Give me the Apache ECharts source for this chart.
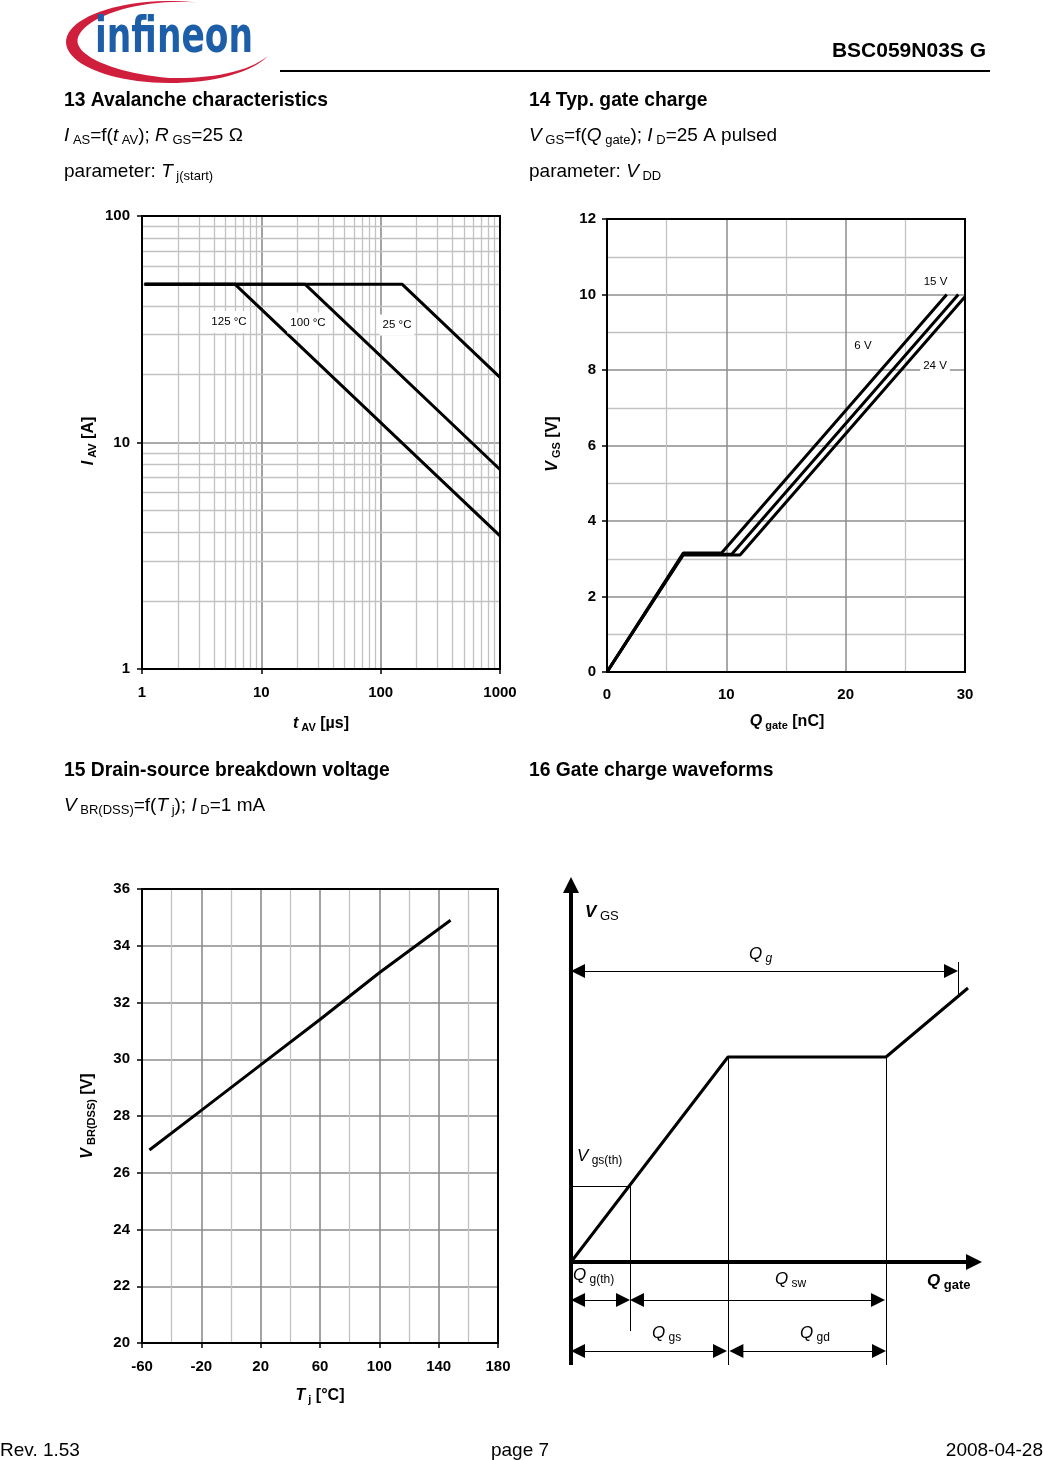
<!DOCTYPE html>
<html><head><meta charset="utf-8">
<script src="https://cdn.jsdelivr.net/npm/echarts@6/dist/echarts.min.js"></script>
<style>html,body{margin:0;padding:0;background:#fff}#c{width:1043px;height:1460px}</style>
</head><body><div id="c"></div>
<script>
// ================= DATA =================
// 13 Avalanche characteristics: I_AV = f(t_AV), log-log
const tAV_25C  = [1.05, 151, 1000];
const iAV_25C  = [50, 50, 19.4];
const tAV_100C = [1.05, 23.2, 1000];
const iAV_100C = [50, 50, 7.6];
const tAV_125C = [1.05, 6.0, 1000];
const iAV_125C = [50, 50, 3.87];
const minorT13 = [2,3,4,5,6,7,8,9,20,30,40,50,60,70,80,90,200,300,400,500,600,700,800,900];
const minorI13 = [2,3,4,5,6,7,8,9,20,30,40,50,60,70,80,90];

// 14 Typ. gate charge: V_GS = f(Q_gate), param V_DD
const qGate_6V  = [0, 6.39, 9.6, 28.47];
const vGS_6V    = [0, 3.15, 3.15, 10];
const qGate_15V = [0, 6.39, 10.45, 29.44];
const vGS_15V   = [0, 3.12, 3.12, 10];
const qGate_24V = [0, 6.39, 11.15, 30];
const vGS_24V   = [0, 3.1, 3.1, 9.94];

// 15 Drain-source breakdown voltage: V_BR(DSS) = f(Tj)
const tj   = [-55, -20, 20, 60, 100, 148];
const vBR  = [26.8, 28.2, 29.8, 31.4, 33.05, 34.9];

// 16 Gate charge waveforms (schematic, arbitrary units)
const wfQ = [0, 39.25, 78.75, 99.25];
const wfV = [0, 51.25, 51.25, 68.5];
const qTh = 14.75, vTh = 19;          // Q_g(th), V_gs(th)
const qPl1 = 39.25, qPl2 = 78.75, vPl = 51.25; // plateau start / end
const qG = 96.75, vQg = 72.75;        // Q_g marker
const yRow1 = -9.5, yRow2 = -22.25;   // arrow rows
const yAxisBottom = -25.75, yAxisTop = 96.25, xAxisEnd = 102.75;

// ================= HELPERS =================
const FF = '"Liberation Sans", Arial, Helvetica, sans-serif';
const MID = 0.28;
const zip = (a, b) => a.map((v, i) => [v, b[i]]);
const mctx = document.createElement('canvas').getContext('2d');
const graphics = [];

function run(x, y, segs, o) {
  o = o || {};
  const items = segs.map(s => {
    const it = Object.assign({ b: false, i: false, dy: 0 }, s);
    mctx.font = (it.i ? 'italic ' : '') + (it.b ? 'bold ' : '') + it.s + 'px ' + FF;
    it.w = mctx.measureText(it.t).width;
    return it;
  });
  const W = items.reduce((a, b) => a + b.w, 0);
  let cx = o.align === 'center' ? -W / 2 : o.align === 'right' ? -W : 0;
  const children = items.map(it => {
    const el = {
      type: 'text', x: cx, y: it.dy - MID * it.s, z: 20,
      style: {
        text: it.t, fill: '#000', fontSize: it.s, fontFamily: FF,
        fontWeight: it.b ? 'bold' : 'normal', fontStyle: it.i ? 'italic' : 'normal',
        align: 'left', verticalAlign: 'middle'
      }
    };
    cx += it.w;
    return el;
  });
  graphics.push({ type: 'group', x: x, y: y, rotation: o.rot ? Math.PI / 2 : 0, children: children, silent: true });
}
function tag(x, y, text, pad) {
  graphics.push({
    type: 'text', x: x, y: y, z: 15, silent: true,
    style: { text: text, fontSize: 11.5, fontFamily: FF, fill: '#000', align: 'center',
      verticalAlign: 'middle', backgroundColor: '#fff', padding: pad }
  });
}
// segment makers
const P  = t => ({ t, s: 19 });
const PI = t => ({ t, s: 19, i: true });
const PS = t => ({ t: ' ' + t, s: 13, dy: 3 });
const A  = t => ({ t, s: 16, b: true });
const AI = t => ({ t, s: 16, b: true, i: true });
const AS = t => ({ t: ' ' + t, s: 11, b: true, dy: 3 });

// ================= TEXTS =================
// header
run(986, 57, [{ t: 'BSC059N03S G', s: 21, b: true }], { align: 'right' });
graphics.push({ type: 'line', shape: { x1: 280, y1: 71, x2: 990, y2: 71 }, style: { stroke: '#000', lineWidth: 2 }, silent: true });

// logo swoosh (crescent)
(function () {
  const cx = 170, cy = 42, rx = 104, ry = 41;
  const a0 = -75, a1 = -340, N = 60;
  const outer = [], inner = [];
  for (let k = 0; k <= N; k++) {
    const t = k / N;
    const a = (a0 + (a1 - a0) * t) * Math.PI / 180;
    const taper = Math.pow(Math.sin(Math.PI * t), 0.8);
    const left = Math.max(0, -Math.cos(a));
    const th = taper * (5 + 7 * left + 3 * Math.max(0, Math.sin(a)));
    outer.push([cx + rx * Math.cos(a), cy + ry * Math.sin(a)]);
    inner.push([cx + (rx - th) * Math.cos(a), cy + (ry - th * 0.8) * Math.sin(a)]);
  }
  graphics.push({ type: 'polygon', shape: { points: outer.concat(inner.reverse()) }, style: { fill: '#cf1f3c' }, silent: true, z: 1 });
  const lf = 'bold 50px "DejaVu Sans Condensed", "DejaVu Sans", sans-serif';
  mctx.font = lf;
  const w = mctx.measureText('infineon').width;
  graphics.push({ type: 'text', x: 95, y: 57 - 0.35 * 50, scaleX: 158 / w, z: 2, silent: true,
    style: { text: 'infineon', font: lf, fontSize: 50, fontWeight: 'bold', fontFamily: '"DejaVu Sans Condensed", "DejaVu Sans", sans-serif', fill: '#1d5ea8', align: 'left', verticalAlign: 'middle' } });
})();

// section headings
const H = t => [{ t, s: 19.3, b: true }];
run(64, 106, H('13 Avalanche characteristics'));
run(529, 106, H('14 Typ. gate charge'));
run(64, 776, H('15 Drain-source breakdown voltage'));
run(529, 776, H('16 Gate charge waveforms'));

// sub lines
run(64, 141, [PI('I'), PS('AS'), P('=f('), PI('t'), PS('AV'), P('); '), PI('R'), PS('GS'), P('=25 Ω')]);
run(64, 177, [P('parameter: '), PI('T'), PS('j(start)')]);
run(529, 141, [PI('V'), PS('GS'), P('=f('), PI('Q'), PS('gate'), P('); '), PI('I'), PS('D'), P('=25 A pulsed')]);
run(529, 177, [P('parameter: '), PI('V'), PS('DD')]);
run(64, 811, [PI('V'), PS('BR(DSS)'), P('=f('), PI('T'), PS('j'), P('); '), PI('I'), PS('D'), P('=1 mA')]);

// axis titles
run(93, 441, [AI('I'), AS('AV'), A(' [A]')], { align: 'center', rot: true });
run(321, 728, [AI('t'), AS('AV'), A(' [µs]')], { align: 'center' });
run(557, 444, [AI('V'), AS('GS'), A(' [V]')], { align: 'center', rot: true });
run(787, 726, [AI('Q'), AS('gate'), A(' [nC]')], { align: 'center' });
run(92, 1116, [AI('V'), AS('BR(DSS)'), A(' [V]')], { align: 'center', rot: true });
run(320, 1400, [AI('T'), AS('j'), A(' [°C]')], { align: 'center' });

// curve annotations
tag(229, 322, '125 °C', [1, 3, 9, 3]);
tag(308, 323, '100 °C', [1, 3, 8, 3]);
tag(397, 325, '25 °C', [1, 3, 8, 3]);
tag(935.5, 281.5, '15 V', [1, 2, 1, 2]);
tag(863, 346, '6 V', [1, 2, 1, 2]);
tag(935, 365.5, '24 V', [1, 3, 3, 3]);

// schematic labels
const SQ = t => ({ t, s: 17, i: true });
const SS = t => ({ t: ' ' + t, s: 12, dy: 3 });
run(585, 917, [{ t: 'V', s: 17, b: true, i: true }, { t: ' GS', s: 13, dy: 3 }]);
run(749, 959, [SQ('Q'), { t: ' g', s: 12, i: true, dy: 3 }]);
run(577, 1161, [SQ('V'), SS('gs(th)')]);
run(573, 1280, [SQ('Q'), SS('g(th)')]);
run(775, 1284, [SQ('Q'), SS('sw')]);
run(927, 1286, [{ t: 'Q', s: 17, b: true, i: true }, { t: ' gate', s: 13, b: true, dy: 3 }]);
run(652, 1338, [SQ('Q'), SS('gs')]);
run(800, 1338, [SQ('Q'), SS('gd')]);

// footer
run(0, 1456, [{ t: 'Rev. 1.53', s: 19 }]);
run(520, 1456, [{ t: 'page 7', s: 19 }], { align: 'center' });
run(1043, 1456, [{ t: '2008-04-28', s: 19 }], { align: 'right' });

// ================= CHART =================
const MAJ = '#8c8c8c', MIN = '#c2c2c2';
const lbl = (m) => ({ color: '#000', fontWeight: 'bold', fontSize: 15, fontFamily: FF, margin: m,
  showMinLabel: true, showMaxLabel: true, hideOverlap: false, formatter: v => String(Math.round(v * 1000) / 1000) });
const frame = { show: true, borderColor: '#000', borderWidth: 2, z: 3, containLabel: false, outerBoundsMode: 'none', backgroundColor: 'transparent' };
const axLine = { show: true, onZero: false, lineStyle: { color: '#000', width: 2 } };
const tick = (s) => ({ show: s, length: 5, lineStyle: { color: '#000', width: 1.5 } });
const split = (c, w) => ({ show: true, showMinLine: false, showMaxLine: false, lineStyle: { color: c, width: w, type: 'solid' } });
const curve = (grid, data, w) => ({ type: 'line', xAxisIndex: grid, yAxisIndex: grid, data: data, symbol: 'none',
  lineStyle: { color: '#000', width: w }, z: 6, silent: true, clip: false });

function shorten(seg, units, startArrow, endArrow) {
  const [[x1, y1], [x2, y2]] = seg;
  const L = Math.hypot(x2 - x1, y2 - y1), ux = (x2 - x1) / L, uy = (y2 - y1) / L;
  const a = startArrow ? units : 0, b = endArrow ? units : 0;
  return [[x1 + ux * a, y1 + uy * a], [x2 - ux * b, y2 - uy * b]];
}
const thinSegs = [
  [[0, vTh], [qTh, vTh]],
  [[qTh, vTh], [qTh, -17.25]],
  [[qPl1, vPl], [qPl1, yAxisBottom]],
  [[qPl2, vPl], [qPl2, yAxisBottom]],
  [[qG, 75], [qG, 66.75]]
];
const arrowSegs = [
  [[0, vQg], [qG, vQg]],
  [[0, yRow1], [qTh, yRow1]],
  [[qTh, yRow1], [78.5, yRow1]],
  [[0, yRow2], [39, yRow2]],
  [[39.6, yRow2], [qPl2, yRow2]]
];
const toML = seg => [{ coord: seg[0] }, { coord: seg[1] }];

const option = {
  animation: false,
  backgroundColor: '#fff',
  graphic: { elements: graphics },
  grid: [
    Object.assign({ left: 142, top: 216, width: 358, height: 453 }, frame),
    Object.assign({ left: 607, top: 219, width: 358, height: 453 }, frame),
    Object.assign({ left: 142, top: 889, width: 356, height: 454 }, frame),
    { left: 551, top: 842, width: 440, height: 540, show: false, containLabel: false, outerBoundsMode: 'none' }
  ],
  xAxis: [
    { gridIndex: 0, type: 'log', logBase: 10, min: 1, max: 1000, axisLine: axLine, axisTick: tick(true), axisLabel: lbl(16), splitLine: split(MAJ, 1.6) },
    { gridIndex: 1, type: 'value', min: 0, max: 30, interval: 10, axisLine: axLine, axisTick: tick(false), axisLabel: lbl(15),
      splitLine: split(MAJ, 1.5), minorTick: { show: false, splitNumber: 2 }, minorSplitLine: { show: true, lineStyle: { color: MIN, width: 1.3 } } },
    { gridIndex: 2, type: 'value', min: -60, max: 180, interval: 40, axisLine: axLine, axisTick: tick(true), axisLabel: lbl(16),
      splitLine: split(MAJ, 1.6), minorTick: { show: false, splitNumber: 2 }, minorSplitLine: { show: true, lineStyle: { color: MIN, width: 1.3 } } },
    { gridIndex: 3, type: 'value', min: -5, max: 105, show: false }
  ],
  yAxis: [
    { gridIndex: 0, type: 'log', logBase: 10, min: 1, max: 100, axisLine: axLine, axisTick: tick(true), axisLabel: lbl(12), splitLine: split(MAJ, 1.6) },
    { gridIndex: 1, type: 'value', min: 0, max: 12, interval: 2, axisLine: axLine, axisTick: tick(true), axisLabel: lbl(11),
      splitLine: split(MAJ, 1.5), minorTick: { show: false, splitNumber: 2 }, minorSplitLine: { show: true, lineStyle: { color: MIN, width: 1.3 } } },
    { gridIndex: 2, type: 'value', min: 20, max: 36, interval: 2, axisLine: axLine, axisTick: tick(true), axisLabel: lbl(12), splitLine: split(MAJ, 1.6) },
    { gridIndex: 3, type: 'value', min: -30, max: 105, show: false }
  ],
  series: [
    // chart 13 minor log grid
    { type: 'line', xAxisIndex: 0, yAxisIndex: 0, data: [], z: 1, silent: true,
      markLine: { z: 1, silent: true, symbol: ['none', 'none'], label: { show: false }, animation: false,
        lineStyle: { color: MIN, width: 1.3, type: 'solid' },
        data: minorT13.map(v => ({ xAxis: v })).concat(minorI13.map(v => ({ yAxis: v }))) } },
    curve(0, zip(tAV_25C, iAV_25C), 3),
    curve(0, zip(tAV_100C, iAV_100C), 3),
    curve(0, zip(tAV_125C, iAV_125C), 3),
    // chart 14
    curve(1, zip(qGate_6V, vGS_6V), 3),
    curve(1, zip(qGate_15V, vGS_15V), 3),
    curve(1, zip(qGate_24V, vGS_24V), 3),
    // chart 15
    curve(2, zip(tj, vBR), 3),
    // chart 16 schematic
    curve(3, zip(wfQ, wfV), 3),
    { type: 'line', xAxisIndex: 3, yAxisIndex: 3, data: [], silent: true,
      markLine: { silent: true, symbol: ['none', 'none'], label: { show: false }, animation: false,
        lineStyle: { color: '#000', width: 1, type: 'solid' }, data: thinSegs.map(toML) } },
    { type: 'line', xAxisIndex: 3, yAxisIndex: 3, data: [], silent: true,
      markLine: { silent: true, symbol: ['triangle', 'triangle'], symbolSize: 14, label: { show: false }, animation: false,
        lineStyle: { color: '#000', width: 1, type: 'solid' }, data: arrowSegs.map(s => toML(shorten(s, 1.75, true, true))) } },
    { type: 'line', xAxisIndex: 3, yAxisIndex: 3, data: [], silent: true,
      markLine: { silent: true, symbol: ['none', 'triangle'], symbolSize: 16, label: { show: false }, animation: false,
        lineStyle: { color: '#000', width: 4, type: 'solid' },
        data: [toML(shorten([[0, yAxisBottom], [0, yAxisTop]], 2, false, true)),
               toML(shorten([[0, 0], [xAxisEnd, 0]], 2, false, true))] } }
  ]
};
const chart = echarts.init(document.getElementById('c'), null, { renderer: 'canvas', width: 1043, height: 1460 });
chart.setOption(option);
</script></body></html>
